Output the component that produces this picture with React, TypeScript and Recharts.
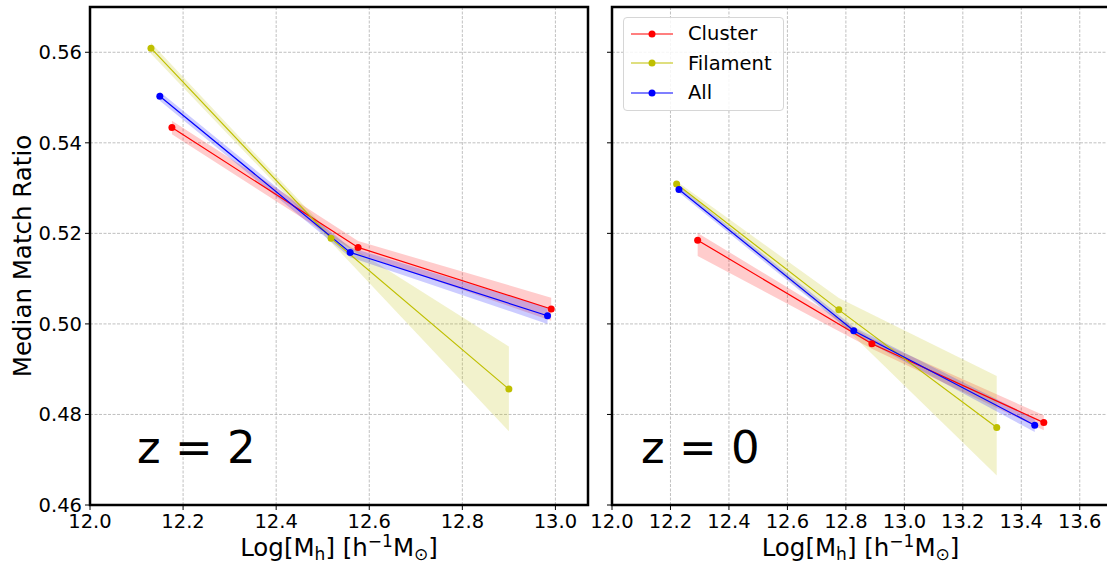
import React from 'react'
import { ComposedChart, Line, Area, XAxis, YAxis, CartesianGrid, ReferenceArea } from 'recharts'

const FONT = '"DejaVu Sans", sans-serif'
const RED = '#ff0000'
const OLIVE = '#bfbf00'
const BLUE = '#0000ff'

// ─── z = 2 panel ────────────────────────────────────────────────────────────
const z2ClusterX = [12.176, 12.576, 12.991]
const z2ClusterY = [0.5434, 0.5169, 0.5033]
const z2ClusterLo = [0.5419, 0.5155, 0.5007]
const z2ClusterHi = [0.5449, 0.5183, 0.5058]

const z2FilamentX = [12.131, 12.518, 12.9]
const z2FilamentY = [0.5609, 0.5189, 0.4856]
const z2FilamentLo = [0.5597, 0.518, 0.4763]
const z2FilamentHi = [0.5621, 0.5198, 0.495]

const z2AllX = [12.15, 12.559, 12.983]
const z2AllY = [0.5503, 0.5158, 0.5018]
const z2AllLo = [0.5493, 0.5147, 0.5]
const z2AllHi = [0.5513, 0.5169, 0.5036]

// ─── z = 0 panel ────────────────────────────────────────────────────────────
const z0ClusterX = [12.293, 12.889, 13.477]
const z0ClusterY = [0.5185, 0.4956, 0.4782]
const z0ClusterLo = [0.515, 0.4945, 0.4765]
const z0ClusterHi = [0.5201, 0.4967, 0.4798]

const z0FilamentX = [12.221, 12.776, 13.316]
const z0FilamentY = [0.5309, 0.5031, 0.4771]
const z0FilamentLo = [0.5303, 0.5005, 0.4665]
const z0FilamentHi = [0.5315, 0.5057, 0.4885]

const z0AllX = [12.229, 12.827, 13.446]
const z0AllY = [0.5297, 0.4985, 0.4776]
const z0AllLo = [0.529, 0.4977, 0.4761]
const z0AllHi = [0.5304, 0.4993, 0.4791]

// ─── ticks ──────────────────────────────────────────────────────────────────
const yTicks = [0.46, 0.48, 0.5, 0.52, 0.54, 0.56]
const xTicksZ2 = [12.0, 12.2, 12.4, 12.6, 12.8, 13.0]
const xTicksZ0 = [12.0, 12.2, 12.4, 12.6, 12.8, 13.0, 13.2, 13.4, 13.6]
const seriesNames = ['Cluster', 'Filament', 'All']
const seriesColors = [RED, OLIVE, BLUE]

const rows = (x: number[], y: number[], lo: number[], hi: number[]) =>
  x.map((v, i) => ({ x: v, y: y[i], band: [lo[i], hi[i]] }))

const z2Series = [
  rows(z2ClusterX, z2ClusterY, z2ClusterLo, z2ClusterHi),
  rows(z2FilamentX, z2FilamentY, z2FilamentLo, z2FilamentHi),
  rows(z2AllX, z2AllY, z2AllLo, z2AllHi),
]
const z0Series = [
  rows(z0ClusterX, z0ClusterY, z0ClusterLo, z0ClusterHi),
  rows(z0FilamentX, z0FilamentY, z0FilamentLo, z0FilamentHi),
  rows(z0AllX, z0AllY, z0AllLo, z0AllHi),
]

const tickStyle = { fill: '#000', fontSize: 19.5, fontFamily: FONT }

function MassLabel({ viewBox }: any) {
  const cx = viewBox.x + viewBox.width / 2
  return (
    <text x={cx} y={viewBox.y + 51} textAnchor="middle" fontFamily={FONT} fontSize={24.5} fill="#000">
      Log[M<tspan dy={4} fontSize={17}>h</tspan>
      <tspan dy={-4}>] [h</tspan>
      <tspan dy={-9} fontSize={17}>−1</tspan>
      <tspan dy={9}>M</tspan>
      <tspan dy={4} fontSize={17}>⊙</tspan>
      <tspan dy={-4}>]</tspan>
    </text>
  )
}

function RatioLabel() {
  return (
    <text x={31} y={256} transform="rotate(-90, 31, 256)" textAnchor="middle" fontFamily={FONT} fontSize={24.5} fill="#000">
      Median Match Ratio
    </text>
  )
}

function LegendBox() {
  return (
    <div style={{
      position: 'absolute', left: 623, top: 17,
      width: 161, height: 94, boxSizing: 'border-box', border: '1px solid #d6d6d6', borderRadius: 4,
      background: 'rgba(255,255,255,0.85)', fontFamily: FONT, fontSize: 19.5, color: '#000', paddingTop: 1,
    }}>
      {seriesNames.map((name, i) => (
        <div key={name} style={{ display: 'flex', alignItems: 'center', height: 29.5 }}>
          <svg width={58} height={12} style={{ marginLeft: 6 }}>
            <line x1={1} x2={43} y1={6} y2={6} stroke={seriesColors[i]} strokeWidth={1.2} />
            <circle cx={22} cy={6} r={3.5} fill={seriesColors[i]} />
          </svg>
          <span>{name}</span>
        </div>
      ))}
    </div>
  )
}

interface PanelProps {
  width: number
  xMax: number
  xTicks: number[]
  series: { x: number; y: number; band: number[] }[][]
  yAxisWidth: number
  rightMargin: number
  showYLabels: boolean
}

function Panel({ width, xMax, xTicks, series, yAxisWidth, rightMargin, showYLabels }: PanelProps) {
  return (
    <ComposedChart width={width} height={565} margin={{ top: 7, right: rightMargin, bottom: 0, left: 0 }}>
      <CartesianGrid stroke="#b0b0b0" strokeDasharray="3 1.5" strokeWidth={0.8} />
      <XAxis
        dataKey="x" type="number" domain={[12, xMax]} ticks={xTicks} allowDataOverflow interval={0}
        height={60} tickSize={5} tickMargin={4} tick={tickStyle} axisLine={false}
        tickLine={{ stroke: '#000' }} tickFormatter={(v: number) => v.toFixed(1)}
        label={{ content: <MassLabel /> }}
      />
      <YAxis
        type="number" domain={[0.46, 0.57]} ticks={yTicks} allowDataOverflow interval={0}
        width={yAxisWidth} tickSize={5} tickMargin={3} tick={tickStyle} axisLine={false}
        tickLine={{ stroke: '#000' }}
        tickFormatter={(v: number) => (showYLabels ? v.toFixed(2) : '')}
        label={showYLabels ? { content: <RatioLabel /> } : undefined}
      />
      {series.map((d, i) => (
        <Area
          key={'band' + i} data={d} dataKey="band" type="linear" stroke="none"
          fill={seriesColors[i]} fillOpacity={0.2} isAnimationActive={false} legendType="none"
        />
      ))}
      {series.map((d, i) => (
        <Line
          key={'line' + i} data={d} dataKey="y" type="linear" stroke={seriesColors[i]} strokeWidth={1.2}
          dot={{ r: 3.5, fill: seriesColors[i], stroke: 'none' }} activeDot={false} isAnimationActive={false}
        />
      ))}
      <ReferenceArea x1={12} x2={xMax} y1={0.46} y2={0.57} fill="none" stroke="#000" strokeWidth={2.5} />
    </ComposedChart>
  )
}

const zLabelStyle: React.CSSProperties = {
  position: 'absolute', top: 425, fontFamily: FONT, fontSize: 45, lineHeight: 1, color: '#000',
}

export default function App() {
  return (
    <div style={{ position: 'absolute', left: 0, top: 0, width: 1107, height: 565, overflow: 'hidden', background: '#fff' }}>
      <div style={{ position: 'absolute', left: 0, top: 0 }}>
        <Panel width={600} xMax={13.07} xTicks={xTicksZ2} series={z2Series} yAxisWidth={90} rightMargin={12} showYLabels />
      </div>
      <div style={{ position: 'absolute', left: 570, top: 0 }}>
        <Panel width={539} xMax={13.7} xTicks={xTicksZ0} series={z0Series} yAxisWidth={42} rightMargin={0} showYLabels={false} />
      </div>
      <LegendBox />
      <div style={{ ...zLabelStyle, left: 137 }}>z = 2</div>
      <div style={{ ...zLabelStyle, left: 641 }}>z = 0</div>
    </div>
  )
}
